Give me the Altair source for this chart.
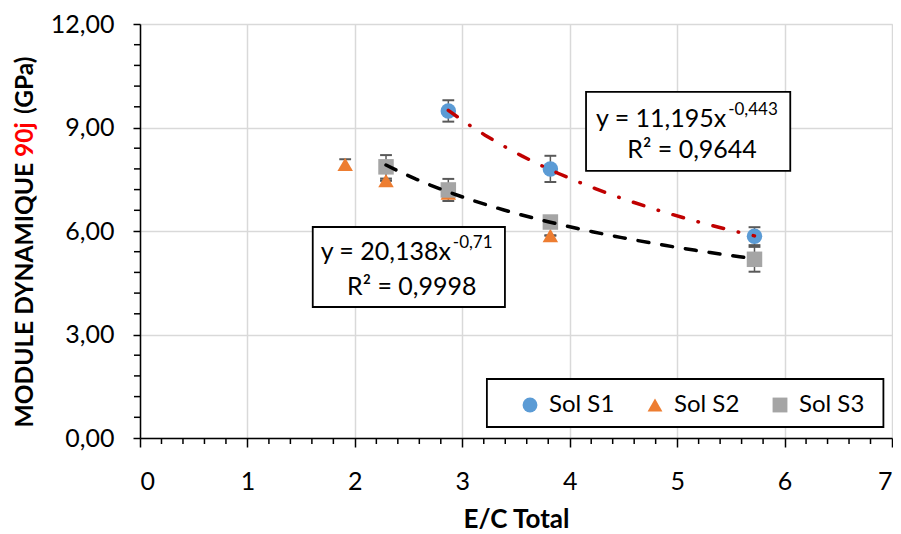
import altair as alt
import pandas as pd

# ---- data ----
series = ["Sol S1", "Sol S1", "Sol S1",
          "Sol S2", "Sol S2", "Sol S2", "Sol S2",
          "Sol S3", "Sol S3", "Sol S3", "Sol S3"]
ec_total = [2.87, 3.82, 5.72, 1.91, 2.29, 2.87, 3.82, 2.29, 2.87, 3.82, 5.72]
module = [9.48, 7.80, 5.85, 7.93, 7.46, 7.10, 5.87, 7.86, 7.19, 6.26, 5.18]
error = [0.31, 0.38, 0.26, 0.15, 0.0, 0.0, 0.0, 0.34, 0.32, 0.15, 0.36]

series_names = ["Sol S1", "Sol S2", "Sol S3"]
series_colors = ["#5B9BD5", "#ED7D31", "#A5A5A5"]
series_shapes = ["circle", "triangle-up", "square"]

x_ticks = [0, 1, 2, 3, 4, 5, 6, 7]
y_ticks = [0, 3, 6, 9, 12]
x_minor = [0.2, 0.4, 0.6, 0.8, 1.2, 1.4, 1.6, 1.8, 2.2, 2.4, 2.6, 2.8,
           3.2, 3.4, 3.6, 3.8, 4.2, 4.4, 4.6, 4.8, 5.2, 5.4, 5.6, 5.8,
           6.2, 6.4, 6.6, 6.8]
y_minor = [0.6, 1.2, 1.8, 2.4, 3.6, 4.2, 4.8, 5.4, 6.6, 7.2, 7.8, 8.4,
           9.6, 10.2, 10.8, 11.4]

eq1_main, eq1_exp, eq1_r2 = "y = 11,195x", "-0,443", "R² = 0,9644"
eq2_main, eq2_exp, eq2_r2 = "y = 20,138x", "-0,71", "R² = 0,9998"

df = pd.DataFrame({"series": series, "ec": ec_total, "mod": module, "err": error})
df["lo"] = df["mod"] - df["err"]
df["hi"] = df["mod"] + df["err"]

FONT = "Lato"
W, H = 752, 414

xs = alt.Scale(domain=[0, 7], nice=False, zero=False)
ys = alt.Scale(domain=[0, 12], nice=False, zero=False)

x_axis = alt.Axis(values=x_ticks, format="d", title="E/C Total", grid=True,
                  gridColor="#D9D9D9", gridWidth=1.5, domainColor="black",
                  domainWidth=1.5, tickColor="black", tickWidth=1.5, tickSize=9,
                  labelFont=FONT, labelFontSize=25, labelColor="black",
                  labelPadding=22, titleFont=FONT, titleFontSize=26,
                  titleFontWeight="bold", titleColor="black", titlePadding=12)
y_axis = alt.Axis(values=y_ticks, title=None, grid=True,
                  labelExpr="replace(format(datum.value, '.2f'), '.', ',')",
                  gridColor="#D9D9D9", gridWidth=1.5, domainColor="black",
                  domainWidth=1.5, tickColor="black", tickWidth=1.5, tickSize=7,
                  labelFont=FONT, labelFontSize=25, labelColor="black",
                  labelPadding=19)


def X(field):
    return alt.X(f"{field}:Q", scale=xs, axis=x_axis)


def Y(field):
    return alt.Y(f"{field}:Q", scale=ys, axis=y_axis)


base = alt.Chart(df)

# error bars (under markers)
err_rule = base.mark_rule(color="#595959", strokeWidth=1.5).encode(
    x=X("ec"), y=Y("lo"), y2="hi")
cap_lo = base.transform_calculate(a="datum.ec - 0.055", b="datum.ec + 0.055").mark_rule(
    color="#595959", strokeWidth=2).encode(x=X("a"), x2="b", y=Y("lo"))
cap_hi = base.transform_calculate(a="datum.ec - 0.055", b="datum.ec + 0.055").mark_rule(
    color="#595959", strokeWidth=2).encode(x=X("a"), x2="b", y=Y("hi"))

leg = alt.Legend(title=None, orient="none", legendX=378, legendY=369,
                 direction="horizontal", labelFont=FONT,
                 labelFontSize=24, labelColor="black",
                 symbolSize=220, symbolStrokeWidth=0,
                 columnPadding=28, labelOffset=7, padding=0)

points = base.mark_point(filled=True, opacity=1, size=240, strokeWidth=0).encode(
    x=X("ec"), y=Y("mod"),
    color=alt.Color("series:N", scale=alt.Scale(domain=series_names, range=series_colors),
                    legend=leg),
    shape=alt.Shape("series:N", scale=alt.Scale(domain=series_names, range=series_shapes),
                    legend=leg),
    order=alt.Order("series:N"))

trend1 = base.transform_filter(alt.datum.series == "Sol S1").transform_regression(
    "ec", "mod", method="pow").mark_line(
    color="#C00000", strokeWidth=3.5, strokeCap="round",
    strokeDash=[11, 15, 0.5, 15]).encode(x=X("ec"), y=Y("mod"))
trend3 = base.transform_filter(alt.datum.series == "Sol S3").transform_regression(
    "ec", "mod", method="pow").mark_line(
    color="black", strokeWidth=3.5, strokeCap="round",
    strokeDash=[11, 13]).encode(x=X("ec"), y=Y("mod"))

# minor ticks
xminor = alt.Chart(pd.DataFrame({"v": x_minor})).mark_rule(color="black", strokeWidth=1.5).encode(
    x=X("v"), y=alt.value(H), y2=alt.value(H + 6))
yminor = alt.Chart(pd.DataFrame({"v": y_minor})).mark_rule(color="black", strokeWidth=1.5).encode(
    y=Y("v"), x=alt.value(-6), x2=alt.value(0))

# annotation boxes (data coordinates)
boxes = alt.Chart(pd.DataFrame({
    "x1": [4.152, 1.608], "x2": [6.053, 3.397],
    "y1": [10.03, 6.116], "y2": [7.74, 3.797]})).mark_rect(
    fill="white", stroke="black", strokeWidth=1.8).encode(
    x=X("x1"), x2="x2", y=Y("y1"), y2="y2")

main_txt = alt.Chart(pd.DataFrame({
    "x": [5.457, 2.894], "y": [9.01, 5.159], "t": [eq1_main, eq2_main]})).mark_text(
    align="right", baseline="alphabetic", font=FONT, fontSize=25, color="black").encode(
    x=X("x"), y=Y("y"), text="t:N")
exp_txt = alt.Chart(pd.DataFrame({
    "x": [5.475, 2.912], "y": [9.36, 5.51], "t": [eq1_exp, eq2_exp]})).mark_text(
    align="left", baseline="alphabetic", font=FONT, fontSize=17, color="black").encode(
    x=X("x"), y=Y("y"), text="t:N")
r2_txt = alt.Chart(pd.DataFrame({
    "x": [5.139, 2.530], "y": [8.116, 4.145], "t": [eq1_r2, eq2_r2]})).mark_text(
    align="center", baseline="alphabetic", font=FONT, fontSize=25, color="black").encode(
    x=X("x"), y=Y("y"), text="t:N")

# legend frame
legend_box = alt.Chart(pd.DataFrame({"x1": [3.229], "x2": [6.920], "y1": [1.710], "y2": [0.319]})).mark_rect(
    fill="white", stroke="black", strokeWidth=1.8).encode(
    x=X("x1"), x2="x2", y=Y("y1"), y2="y2")

# y-axis title with a red part (anchored at the junctions between the parts)
title_df = pd.DataFrame({"t": [0]})
ttl = dict(angle=270, baseline="middle", font=FONT, fontSize=24.5, fontWeight="bold")
yt1 = alt.Chart(title_df).mark_text(text="MODULE DYNAMIQUE", color="black", align="right", **ttl).encode(
    x=alt.value(-114), y=alt.value(139))
yt2 = alt.Chart(title_df).mark_text(text="90j", color="#FF0000", align="left", **ttl).encode(
    x=alt.value(-114), y=alt.value(133))
yt3 = alt.Chart(title_df).mark_text(text="(GPa)", color="black", align="left", **ttl).encode(
    x=alt.value(-114), y=alt.value(90))

chart = alt.layer(
    err_rule, cap_lo, cap_hi, points, trend1, trend3,
    xminor, yminor, boxes, main_txt, exp_txt, r2_txt, legend_box,
    yt1, yt2, yt3
).properties(
    width=W, height=H,
    autosize=alt.AutoSizeParams(type="none"),
    padding={"left": 132, "top": 16, "right": 1, "bottom": 94},
).configure_view(stroke=None).configure(background="white")

chart.save("out.html", embed_options={"renderer": "svg", "actions": False})
